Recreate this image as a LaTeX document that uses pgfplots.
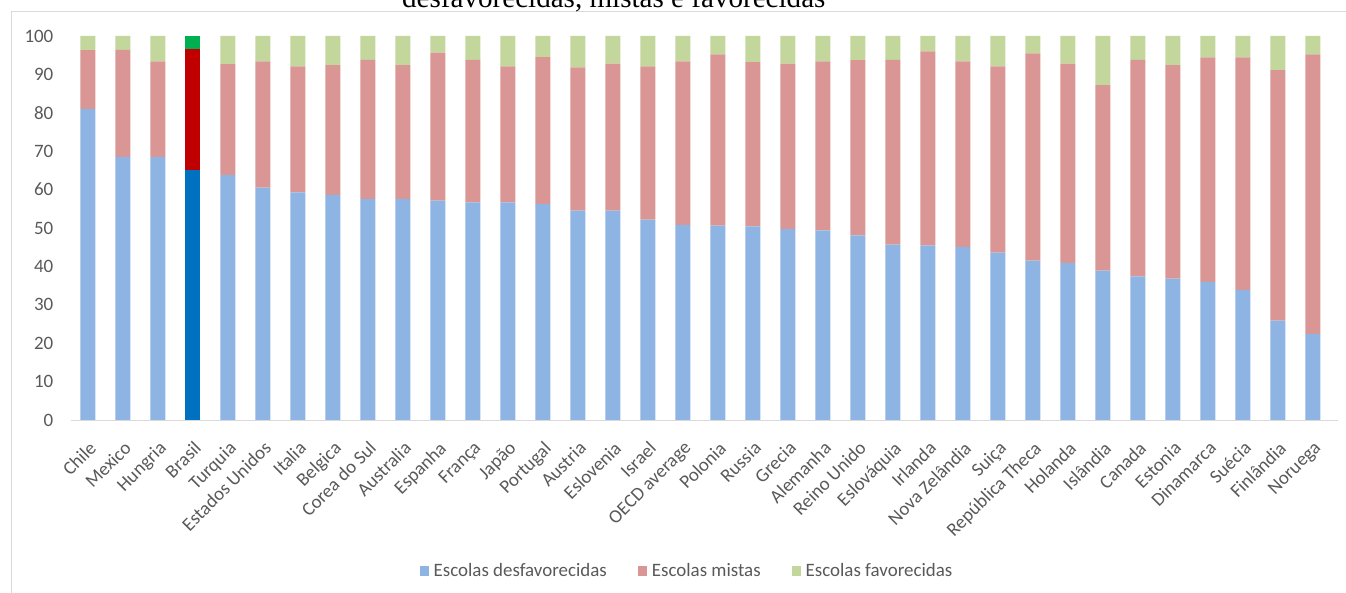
\documentclass[border=0pt]{standalone}
\usepackage{fontspec}
\setmainfont{Carlito}
\newfontfamily\titlefont{Liberation Serif}
\usepackage{pgfplots}
\usepackage{pgfplotstable}
\pgfplotsset{compat=1.18}

\definecolor{desf}{HTML}{8EB4E3}
\definecolor{mist}{HTML}{D99694}
\definecolor{fav}{HTML}{C3D69B}
\definecolor{desfBR}{HTML}{0070C0}
\definecolor{mistBR}{HTML}{C00000}
\definecolor{favBR}{HTML}{00B050}
\definecolor{labelgray}{HTML}{595959}
\definecolor{framegray}{HTML}{D9D9D9}

% Share of schools (%) by type; Brasil is highlighted in its own columns
\pgfplotstableread{
idx desf mist fav desfBR mistBR favBR
0  81.0 15.3 3.7  0 0 0
1  68.5 27.9 3.6  0 0 0
2  68.5 24.9 6.6  0 0 0
3  0    0    0    65.0 31.6 3.4
4  63.8 28.9 7.3  0 0 0
5  60.5 32.9 6.6  0 0 0
6  59.3 32.8 7.9  0 0 0
7  58.6 33.8 7.6  0 0 0
8  57.6 36.2 6.2  0 0 0
9  57.6 34.8 7.6  0 0 0
10 57.1 38.6 4.3  0 0 0
11 56.7 37.1 6.2  0 0 0
12 56.7 35.4 7.9  0 0 0
13 56.2 38.3 5.5  0 0 0
14 54.5 37.3 8.2  0 0 0
15 54.5 38.3 7.2  0 0 0
16 52.2 39.9 7.9  0 0 0
17 50.8 42.6 6.6  0 0 0
18 50.6 44.6 4.8  0 0 0
19 50.4 42.8 6.8  0 0 0
20 49.8 43.0 7.2  0 0 0
21 49.4 44.0 6.6  0 0 0
22 48.1 45.6 6.3  0 0 0
23 45.7 48.1 6.2  0 0 0
24 45.5 50.5 4.0  0 0 0
25 45.1 48.3 6.6  0 0 0
26 43.6 48.5 7.9  0 0 0
27 41.5 54.0 4.5  0 0 0
28 40.9 51.9 7.2  0 0 0
29 38.9 48.3 12.8 0 0 0
30 37.4 56.4 6.2  0 0 0
31 36.8 55.6 7.6  0 0 0
32 36.0 58.4 5.6  0 0 0
33 33.9 60.5 5.6  0 0 0
34 25.9 65.2 8.9  0 0 0
35 22.4 72.8 4.8  0 0 0
}\escolas

\begin{document}
\begin{tikzpicture}
\path[use as bounding box, clip] (0,0) rectangle (1346bp,593bp);

% chart area frame
\draw[framegray, line width=1bp] (11bp,-2bp) -- (11bp,581bp) -- (1350bp,581bp);

% title (second line)
\node[anchor=base west, inner sep=0pt, font=\titlefont\fontsize{29.2}{31}\selectfont]
  at (402bp,585.7bp) {desfavorecidas, mistas e favorecidas};

\begin{axis}[
  at={(70.5bp,173bp)}, anchor=south west,
  scale only axis, width=1260bp, height=384bp,
  xmin=-0.5, xmax=35.5, ymin=0, ymax=100,
  ybar stacked, bar width=15bp,
  axis x line=bottom, axis y line=left,
  axis line style={-},
  y axis line style={draw=none},
  x axis line style={draw=framegray, line width=1bp, shorten >=-8bp},
  major tick length=0pt,
  tick style={draw=none},
  xtick={0,...,35},
  xticklabels={Chile, Mexico, Hungria, Brasil, Turquia, Estados Unidos, Italia, Belgica, Corea do Sul, Australia, Espanha, França, Japão, Portugal, Austria, Eslovenia, Israel, OECD average, Polonia, Russia, Grecia, Alemanha, Reino Unido, Eslováquia, Irlanda, Nova Zelândia, Suiça, República Theca, Holanda, Islândia, Canada, Estonia, Dinamarca, Suécia, Finlândia, Noruega},
  ytick={0,10,...,100},
  /pgf/number format/assume math mode=true,
  tick label style={font=\fontsize{19}{22}\selectfont, text=labelgray},
  yticklabel style={anchor=east, inner sep=0pt},
  yticklabel shift=17bp,
  xticklabel style={rotate=45, anchor=north east, inner sep=0pt},
  xticklabel shift=20bp,
  legend columns=3,
  legend image code/.code={\fill[#1] (0bp,-4.75bp) rectangle (9.5bp,4.75bp);},
  legend style={at={(0.4885,-0.393)}, anchor=center, draw=none, fill=none,
    font=\fontsize{19}{22}\selectfont, text=labelgray,
    inner sep=0pt, nodes={inner sep=0pt},
    /tikz/every odd column/.append style={column sep=4.5bp},
    /tikz/every even column/.append style={column sep=31bp}},
]
\addplot[fill=desf, draw=none] table[x=idx, y=desf] {\escolas};
\addplot[fill=mist, draw=none] table[x=idx, y=mist] {\escolas};
\addplot[fill=fav, draw=none] table[x=idx, y=fav] {\escolas};
\addplot[fill=desfBR, draw=none, forget plot] table[x=idx, y=desfBR] {\escolas};
\addplot[fill=mistBR, draw=none, forget plot] table[x=idx, y=mistBR] {\escolas};
\addplot[fill=favBR, draw=none, forget plot] table[x=idx, y=favBR] {\escolas};
\legend{Escolas desfavorecidas, Escolas mistas, Escolas favorecidas}
\end{axis}
\end{tikzpicture}
\end{document}
